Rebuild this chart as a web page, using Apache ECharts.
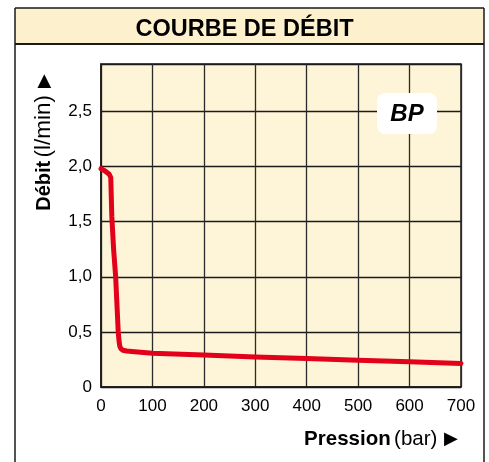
<!DOCTYPE html>
<html>
<head>
<meta charset="utf-8">
<script src="https://cdn.jsdelivr.net/npm/echarts@6/dist/echarts.min.js"></script>
<style>
html,body{margin:0;padding:0;background:#fff;}
#c{width:489px;height:462px;}
</style>
</head>
<body>
<div id="c"></div>
<script>
// Data
var pressure = [0, 8, 16, 19, 21, 24.5, 28.5, 31, 33.5, 35, 36.5, 39, 43, 50, 60, 100, 200, 300, 400, 500, 600, 700];
var debit    = [1.98, 1.96, 1.93, 1.90, 1.55, 1.25, 1.0, 0.75, 0.5, 0.42, 0.37, 0.345, 0.333, 0.326, 0.322, 0.306, 0.29, 0.272, 0.258, 0.243, 0.228, 0.214];
var xTicks = [0, 100, 200, 300, 400, 500, 600, 700];
var yTicks = [0, 0.5, 1.0, 1.5, 2.0, 2.5];
var titleText = 'COURBE DE DÉBIT';
var badgeText = 'BP';

var FONT = '"Liberation Sans", Arial, Helvetica, sans-serif';
var chart = echarts.init(document.getElementById('c'), null, {renderer: 'canvas'});
var pts = pressure.map(function (p, i) { return [p, debit[i]]; });

chart.setOption({
  animation: false,
  backgroundColor: '#ffffff',
  title: {
    text: titleText,
    left: 'center',
    top: 13,
    textStyle: {fontFamily: FONT, fontSize: 23.5, fontWeight: 'bold', color: '#000'}
  },
  grid: {
    left: 101, top: 64, right: 28, bottom: 75,
    show: true, backgroundColor: '#fef4d7', borderColor: '#1a1a1a', borderWidth: 1.5
  },
  xAxis: {
    type: 'value', min: 0, max: 700, interval: 100,
    name: '{b|Pression} {n|(bar)}  {t|▶}',
    nameLocation: 'end', nameGap: -3,
    nameTextStyle: {align: 'right', verticalAlign: 'top', padding: [42, 0, 0, 0],
      rich: {
        b: {fontFamily: FONT, fontSize: 20.5, fontWeight: 'bold', color: '#000'},
        n: {fontFamily: FONT, fontSize: 20.5, color: '#000'},
        t: {fontFamily: FONT, fontSize: 18, color: '#000'}
      }},
    axisLine: {show: true, lineStyle: {color: '#1a1a1a', width: 1.5}},
    axisTick: {show: false},
    axisLabel: {fontFamily: FONT, fontSize: 17, color: '#000', margin: 11,
      formatter: function (v) { return xTicks.indexOf(v) >= 0 ? String(v) : ''; }},
    splitLine: {show: true, lineStyle: {color: '#2a2a2a', width: 1.3}}
  },
  yAxis: {
    type: 'value', min: 0, max: 2.93, interval: 0.5,
    name: '{b|Débit} {n|(l/min)}  {t|▶}',
    nameLocation: 'middle', nameRotate: 90, nameGap: 57,
    nameTextStyle: {align: 'center', verticalAlign: 'middle', padding: [0, 0, 0, 166],
      rich: {
        b: {fontFamily: FONT, fontSize: 20, fontWeight: 'bold', color: '#000'},
        n: {fontFamily: FONT, fontSize: 22.5, color: '#000'},
        t: {fontFamily: FONT, fontSize: 18, color: '#000'}
      }},
    axisLine: {show: true, lineStyle: {color: '#1a1a1a', width: 1.5}},
    axisTick: {show: false},
    axisLabel: {fontFamily: FONT, fontSize: 17, color: '#000', margin: 9, showMaxLabel: false,
      formatter: function (v) {
        for (var i = 0; i < yTicks.length; i++) {
          if (Math.abs(yTicks[i] - v) < 1e-6) return v === 0 ? '0' : yTicks[i].toFixed(1).replace('.', ',');
        }
        return '';
      }},
    splitLine: {show: true, lineStyle: {color: '#1a1a1a', width: 1.3}}
  },
  graphic: [
    {type: 'rect', z: -10, shape: {x: 15, y: 8, width: 469, height: 36}, style: {fill: '#fdf0cd', stroke: null}},
    {type: 'line', z: 10, shape: {x1: 15, y1: 8, x2: 484, y2: 8}, style: {stroke: '#1a1a1a', lineWidth: 1.5}},
    {type: 'line', z: 10, shape: {x1: 15, y1: 44, x2: 484, y2: 44}, style: {stroke: '#1a1a1a', lineWidth: 2}},
    {type: 'line', z: 10, shape: {x1: 15, y1: 8, x2: 15, y2: 462}, style: {stroke: '#1a1a1a', lineWidth: 1.5}},
    {type: 'line', z: 10, shape: {x1: 484, y1: 8, x2: 484, y2: 462}, style: {stroke: '#1a1a1a', lineWidth: 1.5}},
    {type: 'rect', z: 20, shape: {x: 377, y: 93, width: 60, height: 41, r: 8}, style: {fill: '#ffffff'}},
    {type: 'text', z: 21, x: 407, y: 114, style: {text: badgeText, fontFamily: FONT, fontSize: 24, fontWeight: 'bold', fontStyle: 'italic', fill: '#000', align: 'center', verticalAlign: 'middle'}}
  ],
  series: [{
    type: 'line',
    data: pts,
    symbol: 'none',
    smooth: false,
    lineStyle: {color: '#e2001a', width: 5, join: 'round', cap: 'round'},
    z: 5
  }]
});
</script>
</body>
</html>
